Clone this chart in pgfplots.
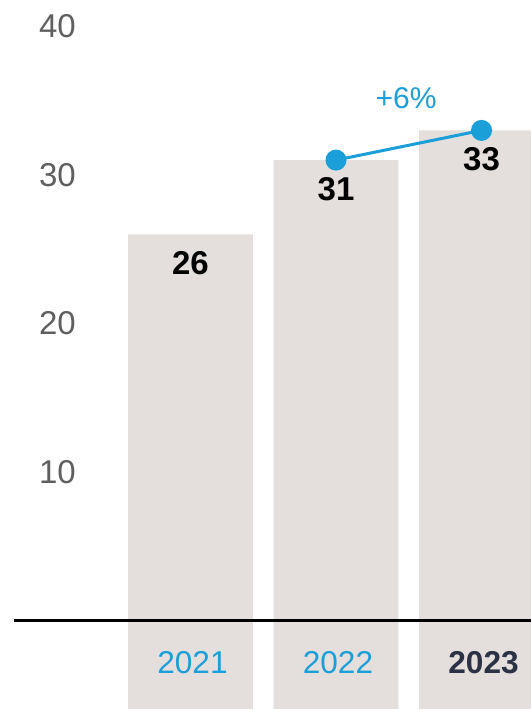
\documentclass[border=0pt]{standalone}
\usepackage{pgfplots}
\pgfplotsset{compat=1.18}
\usepackage{fontspec}
\setmainfont{Liberation Sans}
\definecolor{barc}{RGB}{228,222,220}
\definecolor{cblue}{RGB}{26,159,217}
\definecolor{navy}{RGB}{43,50,69}
\definecolor{tgray}{RGB}{95,95,95}
\begin{document}
\begin{tikzpicture}
\begin{axis}[
  width=265.5pt, height=354.5pt, scale only axis,
  xmin=-1.309, xmax=2.340,
  ymin=-5.96, ymax=41.78,
  axis on top=true,
  axis line style={draw=none},
  tick style={draw=none},
  major tick length=0pt,
  /pgf/number format/assume math mode=true,
  ytick={10,20,30,40},
  yticklabel style={anchor=center, xshift=28.75pt, text=tgray, font=\fontsize{16.5}{18}\selectfont},
  xtick={0,1,2},
  xticklabels={{\color{cblue}2021},{\color{cblue}2022},{\bfseries\color{navy}2023}},
  xticklabel style={anchor=center, yshift=23pt, xshift=1pt, font=\fontsize{15.8}{18}\selectfont},
  clip=true,
]
% part of bars below the base line
\addplot[ybar, fill=barc, draw=none, bar width=0.856, bar shift=0]
  coordinates {(0,-6) (1,-6) (2,-6)};
% bars
\addplot[ybar, fill=barc, draw=none, bar width=0.856, bar shift=0,
  nodes near coords,
  every node near coord/.append style={anchor=center, yshift=-14.5pt, text=black,
    font=\fontsize{16.5}{18}\selectfont\bfseries},
  point meta=explicit symbolic]
  coordinates {(0,26)[26] (1,31)[31] (2,33)[33]};
% baseline
\draw[black, line width=1.1pt] (axis cs:-1.213,0) -- (axis cs:2.34,0);
% growth line
\addplot[cblue, line width=1.5pt, mark=*, mark size=4.5pt, mark options={fill=cblue, draw=cblue}]
  coordinates {(1,31) (2,33)};
\node[text=cblue, font=\fontsize{15}{17}\selectfont] at (axis cs:1.481,35.15) {+6\%};
\end{axis}
\end{tikzpicture}
\end{document}
